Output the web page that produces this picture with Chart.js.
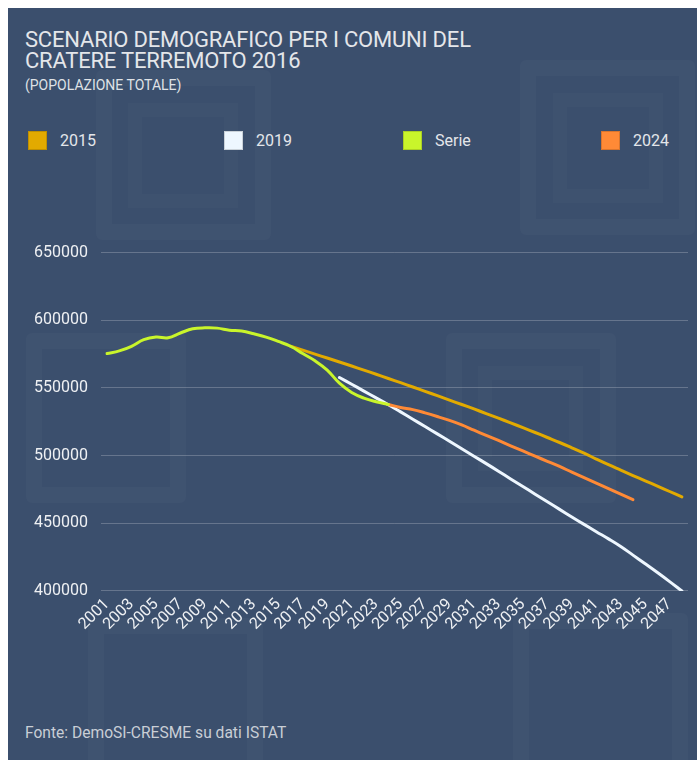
<!DOCTYPE html>
<html>
<head>
<meta charset="utf-8">
<script src="https://cdn.jsdelivr.net/npm/chart.js@4"></script>
<style>
  html, body { margin: 0; padding: 0; background: #ffffff; }
  #panel { position: absolute; left: 8px; top: 8px; width: 689px; height: 752px; background: #3b4f6d; overflow: hidden; font-family: Roboto, "Noto Sans", sans-serif; }
  .wm { position: absolute; border: 16px solid rgba(255,255,255,0.022); border-radius: 6px; box-sizing: border-box; }
  .wm2 { position: absolute; border: 14px solid rgba(255,255,255,0.018); box-sizing: border-box; }
  #title { position: absolute; left: 17px; top: 21px; font-size: 22px; line-height: 21px; color: #e4e6ea; letter-spacing: -0.2px; }
  #subtitle { position: absolute; left: 17px; top: 69px; font-size: 14px; color: #dfe2e6; }
  .lg { position: absolute; top: 123px; height: 19px; }
  .lg .box { position: absolute; left: 0; top: 0; width: 19px; height: 19px; box-sizing: border-box; border: 1px solid rgba(0,0,0,0.15); }
  .lg .txt { position: absolute; left: 32px; top: 0px; font-size: 16px; line-height: 19px; color: #e4e6ea; white-space: nowrap; }
  #footer { position: absolute; left: 17px; top: 716px; font-size: 15.6px; color: #c9ced6; }
  #wrap { position: absolute; left: 0px; top: 222px; width: 689px; height: 420px; }
</style>
</head>
<body>
<div id="panel">
  <div class="wm" style="left:88px; top:62px; width:175px; height:170px;"></div>
  <div class="wm2" style="left:120px; top:95px; width:110px; height:105px;"></div>
  <div class="wm" style="left:512px; top:52px; width:175px; height:175px;"></div>
  <div class="wm2" style="left:545px; top:85px; width:110px; height:110px;"></div>
  <div class="wm" style="left:18px; top:325px; width:160px; height:170px;"></div>
  <div class="wm" style="left:438px; top:325px; width:170px; height:170px;"></div>
  <div class="wm2" style="left:470px; top:358px; width:105px; height:105px;"></div>
  <div class="wm" style="left:80px; top:610px; width:175px; height:175px;"></div>
  <div class="wm" style="left:505px; top:605px; width:175px; height:175px;"></div>

  <div id="title">SCENARIO DEMOGRAFICO PER I COMUNI DEL<br>CRATERE TERREMOTO 2016</div>
  <div id="subtitle">(POPOLAZIONE TOTALE)</div>

  <div class="lg" style="left:20px;"><div class="box" style="background:#e2aa00"></div><div class="txt">2015</div></div>
  <div class="lg" style="left:216px;"><div class="box" style="background:#eef7ff"></div><div class="txt">2019</div></div>
  <div class="lg" style="left:395px;"><div class="box" style="background:#c9f52b"></div><div class="txt">Serie</div></div>
  <div class="lg" style="left:593px;"><div class="box" style="background:#ff8a36"></div><div class="txt">2024</div></div>

  <div id="wrap"><canvas id="c"></canvas></div>
  <div id="footer">Fonte: DemoSI-CRESME su dati ISTAT</div>
</div>
<script>
const years = ["2001","2002","2003","2004","2005","2006","2007","2008","2009","2010",
  "2011","2012","2013","2014","2015","2016","2017","2018","2019","2020",
  "2021","2022","2023","2024","2025","2026","2027","2028","2029","2030",
  "2031","2032","2033","2034","2035","2036","2037","2038","2039","2040",
  "2041","2042","2043","2044","2045","2046","2047","2048"];

const serie = [575400, 577400, 580800, 585700, 587600, 587100, 590600, 593700, 594400, 594200,
  592700, 592000, 590000, 587600, 584400, 580800, 575400, 570100, 563200, 553500,
  546700, 542500, 539800, 537800,
  null, null, null, null, null, null, null, null, null, null, null, null,
  null, null, null, null, null, null, null, null, null, null, null, null];

const scen2015 = [null, null, null, null, null, null, null, null, null, null,
  null, null, null, null, null,
  580800, 577900, 575000, 572100, 569200, 566200, 563200, 560100, 557000, 553900,
  550700, 547500, 544300, 541000, 537800, 534500, 531100, 527700, 524200, 520700,
  517100, 513400, 509700, 505800, 501800, 497500, 493300, 489300, 485300, 481400,
  477500, 473500, 469500];

const scen2019 = [null, null, null, null, null, null, null, null, null, null,
  null, null, null, null, null, null, null, null, null,
  557700, 552700, 547700, 542700, 537600, 532300, 526900, 521500, 516100, 510600,
  505100, 499600, 494100, 488500, 482800, 477200, 471500, 465900, 460300, 454700,
  449200, 443800, 438500, 432900, 426500, 420100, 413600, 406900, 400000];

const scen2024 = [null, null, null, null, null, null, null, null, null, null,
  null, null, null, null, null, null, null, null, null, null, null, null, null,
  537800, 535600, 534000, 531600, 528900, 526000, 522700, 518800, 515000, 511200,
  507300, 503500, 499600, 495800, 492000, 487800, 483700, 479700, 475600, 471500,
  467500, null, null, null, null];

const yTicks = [400000, 450000, 500000, 550000, 600000, 650000];

const line = (label, data, color, order) => ({
  label, data, borderColor: color, backgroundColor: color,
  borderWidth: 3, pointRadius: 0, pointHoverRadius: 0, tension: 0.4,
  fill: false, order, borderCapStyle: 'round'
});

new Chart(document.getElementById('c'), {
  type: 'line',
  data: {
    labels: years,
    datasets: [
      line('Serie', serie, '#c9f52b', 0),
      line('2024', scen2024, '#ff8a36', 1),
      line('2019', scen2019, '#eef7ff', 2),
      line('2015', scen2015, '#e2aa00', 3)
    ]
  },
  options: {
    responsive: true,
    maintainAspectRatio: false,
    animation: false,
    layout: { padding: { left: 13, right: 9, top: 10, bottom: 12 } },
    plugins: { legend: { display: false }, tooltip: { enabled: false } },
    scales: {
      x: {
        offset: true,
        grid: { display: false, drawTicks: false },
        border: { display: false },
        ticks: {
          color: '#eef0f3',
          font: { family: 'Roboto', size: 16 },
          minRotation: 45, maxRotation: 45,
          autoSkip: false,
          padding: 4,
          callback: function(v, i) { return i % 2 === 0 ? years[i] : null; }
        }
      },
      y: {
        min: yTicks[0], max: yTicks[yTicks.length - 1],
        afterBuildTicks: (axis) => { axis.ticks = yTicks.map(v => ({ value: v })); },
        grid: { color: 'rgba(255,255,255,0.22)', drawTicks: false, lineWidth: 1 },
        border: { display: false },
        ticks: {
          color: '#eef0f3',
          font: { family: 'Roboto', size: 16 },
          padding: 13,
          callback: (v) => String(v)
        }
      }
    }
  }
});
</script>
</body>
</html>
